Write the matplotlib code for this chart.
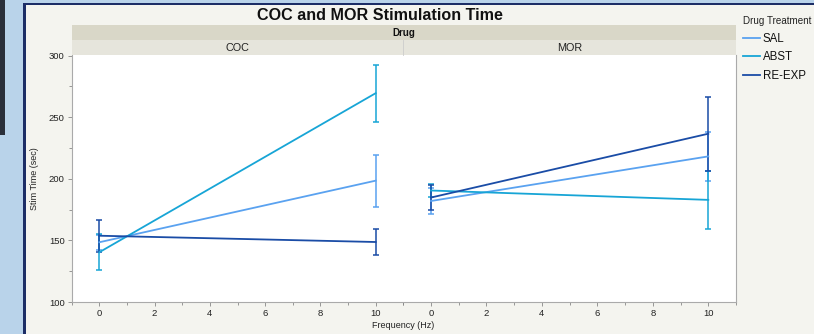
import matplotlib
matplotlib.use("Agg")
import matplotlib.pyplot as plt
from matplotlib.patches import Rectangle
from matplotlib.lines import Line2D

plt.rcParams['font.family'] = ['Liberation Sans', 'DejaVu Sans']

drugs = ["COC", "MOR"]
treatments = ["SAL", "ABST", "RE-EXP"]
freqs = [0, 10]
means = {
    "COC": {"SAL": [148.5, 198.5], "ABST": [140.4, 269.5], "RE-EXP": [153.8, 148.7]},
    "MOR": {"SAL": [182.0, 218.2], "ABST": [190.5, 182.9], "RE-EXP": [184.8, 236.6]},
}
errs = {
    "COC": {"SAL": [6.0, 21.0], "ABST": [14.4, 23.0], "RE-EXP": [13.0, 10.3]},
    "MOR": {"SAL": [10.7, 20.2], "ABST": [5.5, 23.8], "RE-EXP": [10.1, 30.0]},
}
colors = {"SAL": "#5aa2f0", "ABST": "#17a5d6", "RE-EXP": "#1a4ca6"}

W, H = 814, 334
fig = plt.figure(figsize=(W / 100, H / 100), dpi=100, facecolor="#f4f4ef")

def fx(px):
    return px / W

def fy(py):
    return 1 - py / H

# window frame
fig.patches.append(Rectangle((0, 0), fx(23), 1, transform=fig.transFigure,
                             facecolor="#b9d3ea", edgecolor="none", zorder=0))
fig.patches.append(Rectangle((0, fy(135)), fx(5), fy(0) - fy(135), transform=fig.transFigure,
                             facecolor="#2a2f3a", edgecolor="none", zorder=0))
fig.patches.append(Rectangle((fx(23), 0), fx(3), 1, transform=fig.transFigure,
                             facecolor="#1c2d66", edgecolor="none", zorder=0))
fig.patches.append(Rectangle((fx(23), fy(5)), 1, fy(3) - fy(5), transform=fig.transFigure,
                             facecolor="#1c2d66", edgecolor="none", zorder=0))
fig.patches.append(Rectangle((fx(23), fy(3)), 1, fy(0) - fy(3), transform=fig.transFigure,
                             facecolor="#b9d3ea", edgecolor="none", zorder=0))

left, mid, right = 71.7, 403.3, 736.0
top, bottom = 55.0, 302.0
edges = [(left, mid), (mid, right)]

axes = []
for i, d in enumerate(drugs):
    x0, x1 = edges[i]
    ax = fig.add_axes([fx(x0), fy(bottom), fx(x1 - x0), fy(top) - fy(bottom)])
    ax.set_facecolor("white")
    for t in treatments:
        ax.errorbar(freqs, means[d][t], yerr=errs[d][t], color=colors[t],
                    lw=1.3, elinewidth=1.1, capsize=2.3, capthick=1.1)
    ax.set_xlim(-1, 11)
    ax.set_ylim(100, 300.5)
    ax.set_xticks(range(0, 11, 2))
    ax.set_xticks(range(-1, 12, 2), minor=True)
    ax.set_yticks([100, 150, 200, 250, 300])
    ax.set_yticks([125, 175, 225, 275], minor=True)
    ax.tick_params(axis="both", which="major", labelsize=6.8, length=3, width=0.6,
                   color="#888888", labelcolor="#222222", pad=2)
    ax.tick_params(axis="both", which="minor", length=2, width=0.6, color="#888888")
    ax.spines["top"].set_visible(False)
    for s in ["left", "bottom", "right"]:
        ax.spines[s].set_color("#aaaaaa")
        ax.spines[s].set_linewidth(0.8)
    if i == 0:
        ax.spines["right"].set_color("#cccccc")
        ax.spines["right"].set_linewidth(0.6)
        ax.set_ylabel("Stim Time (sec)", fontsize=6.5, color="#222222", labelpad=7)
    else:
        ax.spines["left"].set_visible(False)
        ax.tick_params(axis="y", which="both", left=False, labelleft=False)
    axes.append(ax)

    # strip label
    fig.patches.append(Rectangle((fx(x0), fy(top)), fx(x1 - x0), fy(40) - fy(top),
                                 transform=fig.transFigure, facecolor="#e6e5dc",
                                 edgecolor="none", zorder=1))
    fig.text(fx((x0 + x1) / 2), fy(48), d, ha="center", va="center", fontsize=7.8,
             color="#222222")

# divider in strip
fig.add_artist(Line2D([fx(mid), fx(mid)], [fy(top), fy(40)], transform=fig.transFigure,
                      color="#cccccc", lw=0.6))
# Drug header
fig.patches.append(Rectangle((fx(left), fy(40)), fx(right - left), fy(25) - fy(40),
                             transform=fig.transFigure, facecolor="#d9d7c8",
                             edgecolor="none", zorder=1))
fig.text(fx((left + right) / 2), fy(32.5), "Drug", ha="center", va="center",
         fontsize=7, fontweight="bold", color="#111111")

fig.text(fx(380), fy(16), "COC and MOR Stimulation Time", ha="center", va="center",
         fontsize=11.6, fontweight="bold", color="#111111")
fig.text(fx(mid), fy(325), "Frequency (Hz)", ha="center", va="center",
         fontsize=6.5, color="#222222")

# legend
handles = [Line2D([], [], color=colors[t], lw=1.3) for t in treatments]
leg = fig.legend(handles, treatments, title="Drug Treatment", loc="upper left",
                 bbox_to_anchor=(fx(738), fy(11.5)), frameon=False, fontsize=8.3,
                 title_fontsize=7.1, handlelength=1.5, handletextpad=0.25,
                 labelspacing=0.58, borderaxespad=0, alignment="left")
leg.get_title().set_color("#222222")
for txt in leg.get_texts():
    txt.set_color("#111111")

fig.savefig("out.png", dpi=100, facecolor=fig.get_facecolor())
